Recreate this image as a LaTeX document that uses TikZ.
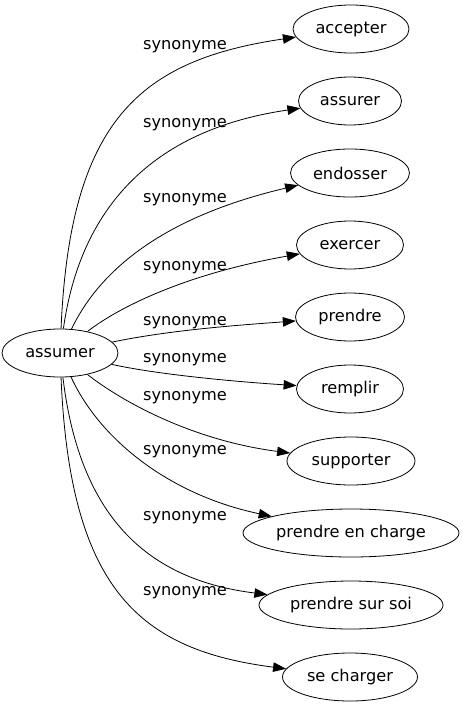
\documentclass[tikz,border=0pt]{standalone}
\usepackage{fontspec}
\setmainfont{DejaVu Sans}
\usetikzlibrary{shapes.geometric,arrows.meta}
\begin{document}
\begin{tikzpicture}[x=1pt,y=-1pt,
	word/.style={draw,ellipse,line width=0.8pt,inner sep=0pt,minimum height=48pt,font=\fontsize{16.2}{19}\selectfont},
	rel/.style={font=\fontsize{16.2}{19}\selectfont,inner sep=0pt},
	syn/.style={line width=0.8pt,-{Triangle[length=13pt,width=9.5pt]}}]
	\useasboundingbox (0,0) rectangle (463,707);

	\draw (60,353) node (assumer)[word,minimum width=116pt]{assumer};

	\draw (351,29) node (accepter)[word,minimum width=116pt]{accepter};
	\draw (350,101) node (assurer)[word,minimum width=103pt]{assurer};
	\draw (350,173) node (endosser)[word,minimum width=119pt]{endosser};
	\draw (350,245) node (exercer)[word,minimum width=107pt]{exercer};
	\draw (350,317) node (prendre)[word,minimum width=109pt]{prendre};
	\draw (350,389) node (remplir)[word,minimum width=107pt]{remplir};
	\draw (351,461) node (supporter)[word,minimum width=128pt]{supporter};
	\draw (351,533) node (charge)[word,minimum width=216pt]{prendre en charge};
	\draw (351,605) node (soi)[word,minimum width=184pt]{prendre sur soi};
	\draw (350,677) node (charger)[word,minimum width=135pt]{se charger};

	\draw (185,47) node (l1)[rel]{synonyme};
	\draw (185,125) node (l2)[rel]{synonyme};
	\draw (185,200) node (l3)[rel]{synonyme};
	\draw (185,268) node (l4)[rel]{synonyme};
	\draw (185,323) node (l5)[rel]{synonyme};
	\draw (185,360) node (l6)[rel]{synonyme};
	\draw (185,398) node (l7)[rel]{synonyme};
	\draw (185,452) node (l8)[rel]{synonyme};
	\draw (185,518) node (l9)[rel]{synonyme};
	\draw (185,593) node (l10)[rel]{synonyme};

	\draw[syn] (assumer) .. controls (70,120) and (140,60) .. (accepter);
	\draw[syn] (assumer) .. controls (80,210) and (150,130) .. (assurer);
	\draw[syn] (assumer) .. controls (95,280) and (150,220) .. (endosser);
	\draw[syn] (assumer) .. controls (115,310) and (180,275) .. (exercer);
	\draw[syn] (assumer) .. controls (170,330) and (240,325) .. (prendre);
	\draw[syn] (assumer) .. controls (160,375) and (240,382) .. (remplir);
	\draw[syn] (assumer) .. controls (120,400) and (190,440) .. (supporter);
	\draw[syn] (assumer) .. controls (100,440) and (170,495) .. (charge);
	\draw[syn] (assumer) .. controls (80,520) and (150,580) .. (soi);
	\draw[syn] (assumer) .. controls (70,590) and (140,650) .. (charger);
\end{tikzpicture}
\end{document}
